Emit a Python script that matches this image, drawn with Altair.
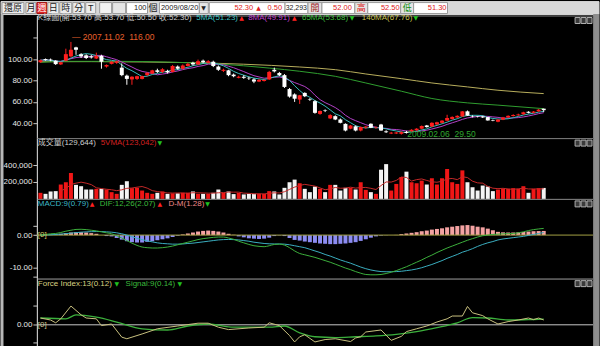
import altair as alt
import pandas as pd

FONT = "Liberation Sans, Noto Sans CJK TC, sans-serif"
UIFONT = "Liberation Sans, Noto Sans CJK TC, sans-serif"

# ---------------- data (weekly bars) ----------------
idx = list(range(100))
opens = [97.0, 100.0, 99.5, 98.5, 95.0, 98.5, 102.5, 110.9, 104.5, 103.5,
         102.5, 100.5, 103.0, 93.0, 95.5, 96.5, 92.0, 84.5, 81.0, 81.5,
         81.5, 85.0, 86.5, 89.5, 88.0, 89.0, 88.0, 93.0, 91.0, 93.5,
         96.5, 95.0, 98.5, 96.5, 97.5, 93.0, 89.0, 89.5, 85.5, 82.5,
         83.5, 82.5, 81.0, 79.0, 79.5, 81.0, 90.0, 87.0, 85.0, 72.0,
         67.0, 62.2, 68.4, 62.5, 60.7, 48.8, 52.3, 44.6, 46.7, 43.6,
         39.5, 35.0, 37.2, 33.3, 36.0, 39.6, 36.0, 38.9, 32.5, 30.5,
         30.5, 30.2, 32.0, 32.5, 33.5, 35.0, 38.0, 37.0, 39.0, 40.5,
         42.5, 44.0, 45.5, 46.5, 51.2, 46.5, 46.5, 46.5, 45.8, 43.0,
         41.5, 43.5, 45.5, 46.8, 47.5, 48.5, 50.8, 49.8, 51.2, 53.7]
highs = [99.5, 100.5, 100.5, 99.0, 97.5, 109.7, 116.0, 111.5, 105.5, 104.5,
         104.0, 106.0, 104.0, 95.0, 98.0, 98.5, 96.0, 85.5, 84.0, 84.5,
         84.5, 88.0, 90.0, 91.0, 91.5, 90.0, 94.5, 94.0, 95.0, 96.5,
         97.5, 99.5, 99.5, 99.0, 98.5, 94.0, 91.0, 90.0, 86.5, 84.5,
         85.0, 83.5, 82.0, 81.5, 81.0, 89.0, 92.0, 88.0, 86.0, 73.0,
         68.0, 66.5, 69.0, 63.5, 61.5, 52.0, 53.0, 48.5, 47.5, 44.5,
         40.0, 38.5, 38.0, 37.0, 37.5, 40.0, 37.0, 39.5, 33.5, 32.0,
         32.0, 32.5, 33.0, 34.5, 35.5, 38.0, 38.5, 41.0, 41.5, 43.0,
         48.0, 46.5, 47.5, 51.5, 52.0, 47.5, 47.0, 47.0, 46.0, 43.5,
         44.0, 46.0, 47.5, 48.5, 49.0, 50.8, 51.3, 51.5, 53.3, 53.7]
lows = [96.5, 98.5, 98.0, 94.5, 94.5, 98.0, 101.5, 104.0, 101.0, 100.0,
        100.5, 100.0, 91.0, 92.0, 95.0, 95.5, 84.0, 76.0, 76.0, 80.5,
        81.0, 84.0, 86.0, 87.0, 87.0, 86.5, 87.5, 90.0, 90.5, 93.0,
        94.0, 94.5, 96.0, 96.0, 92.5, 89.0, 88.0, 84.0, 83.0, 82.0,
        81.5, 80.5, 77.5, 78.5, 79.0, 80.5, 87.5, 84.0, 73.0, 64.0,
        60.0, 58.1, 64.5, 61.0, 49.0, 48.0, 50.5, 44.0, 43.0, 40.0,
        32.5, 34.5, 32.5, 32.5, 35.0, 35.5, 35.0, 33.0, 31.0, 30.0,
        30.0, 29.5, 30.5, 32.0, 33.0, 34.5, 36.0, 36.5, 38.5, 40.0,
        42.0, 43.5, 45.0, 46.0, 47.0, 45.5, 45.5, 45.0, 42.5, 42.0,
        41.0, 43.0, 45.0, 46.3, 47.0, 48.0, 49.3, 49.3, 50.8, 50.5]
closes = [99.0, 99.0, 98.8, 95.3, 97.0, 104.6, 108.7, 108.7, 102.5, 101.0,
          101.5, 103.0, 97.5, 94.5, 97.5, 98.0, 85.0, 81.5, 83.5, 84.0,
          84.0, 87.0, 89.5, 88.0, 90.5, 87.5, 93.5, 91.0, 94.0, 95.5,
          95.0, 98.0, 97.0, 98.0, 93.5, 90.0, 90.0, 85.0, 84.0, 83.5,
          82.5, 82.0, 79.0, 80.5, 80.5, 88.0, 88.5, 85.0, 74.0, 65.0,
          63.0, 66.2, 65.3, 62.0, 49.8, 51.5, 51.8, 47.7, 43.6, 40.5,
          33.3, 38.0, 33.3, 36.6, 37.0, 35.9, 36.5, 33.3, 31.7, 31.3,
          31.5, 31.8, 31.0, 34.0, 35.0, 37.5, 36.5, 40.5, 41.0, 42.5,
          45.0, 46.0, 47.0, 51.2, 47.2, 46.0, 46.0, 45.5, 42.7, 42.5,
          43.5, 45.5, 47.0, 47.8, 48.3, 50.3, 49.8, 51.0, 52.8, 52.3]
volume = [72000, 60000, 88000, 92000, 170000, 197000, 306000, 166000, 150000, 111000,
          111000, 119000, 119000, 111000, 80000, 60000, 166000, 209000, 127000, 131000,
          99000, 72000, 60000, 72000, 88000, 60000, 66000, 66000, 72000, 72000,
          88000, 60000, 60000, 60000, 72000, 111000, 72000, 88000, 57000, 72000,
          53000, 60000, 60000, 60000, 60000, 92000, 88000, 53000, 131000, 197000,
          228000, 185000, 119000, 80000, 146000, 119000, 80000, 166000, 166000, 99000,
          131000, 131000, 111000, 197000, 107000, 80000, 60000, 345000, 411000, 99000,
          177000, 259000, 322000, 197000, 185000, 216000, 170000, 244000, 170000, 244000,
          353000, 197000, 177000, 337000, 197000, 138000, 99000, 158000, 146000, 92000,
          111000, 119000, 119000, 127000, 119000, 150000, 72000, 119000, 127000, 129644]
dif = [0.0, 0.2, 0.4, 0.5, 0.8, 1.2, 1.5, 1.75, 1.8, 1.7,
       1.5, 1.3, 1.0, 0.7, 0.4, -0.2, -0.9, -1.7, -2.5, -3.2,
       -3.7, -3.9, -4.0, -4.0, -3.9, -3.7, -3.4, -3.0, -2.6, -2.2,
       -1.8, -1.4, -1.1, -0.9, -0.7, -0.6, -0.6, -0.9, -1.3, -1.9,
       -2.4, -2.9, -3.3, -3.5, -3.6, -3.3, -2.9, -2.8, -3.1, -3.9,
       -4.9, -5.7, -6.1, -6.5, -6.9, -7.4, -7.9, -8.4, -9.0, -9.6,
       -10.2, -10.7, -11.3, -11.8, -12.2, -12.3, -12.3, -12.2, -11.9, -11.5,
       -11.0, -10.4, -9.8, -9.1, -8.4, -7.7, -6.9, -6.2, -5.4, -4.7,
       -4.0, -3.4, -2.8, -2.2, -1.6, -1.1, -0.6, -0.2, 0.0, 0.2,
       0.3, 0.4, 0.45, 0.5, 0.7, 1.0, 1.4, 1.7, 1.9, 2.07]
macd = [0.0, 0.05, 0.1, 0.2, 0.3, 0.45, 0.6, 0.75, 0.9, 1.0,
        1.05, 1.1, 1.1, 1.0, 0.9, 0.7, 0.4, 0.0, -0.5, -1.0,
        -1.4, -1.8, -2.1, -2.4, -2.6, -2.7, -2.8, -2.8, -2.75, -2.6,
        -2.5, -2.3, -2.1, -1.9, -1.7, -1.5, -1.4, -1.35, -1.4, -1.5,
        -1.7, -1.9, -2.2, -2.4, -2.6, -2.7, -2.75, -2.75, -2.8, -3.0,
        -3.3, -3.6, -3.9, -4.4, -4.9, -5.4, -6.0, -6.5, -7.1, -7.7,
        -8.2, -8.7, -9.3, -9.9, -10.4, -10.8, -11.1, -11.3, -11.35, -11.35,
        -11.3, -11.2, -11.0, -10.8, -10.5, -10.1, -9.6, -9.1, -8.5, -7.9,
        -7.2, -6.6, -6.0, -5.3, -4.8, -4.2, -3.5, -2.9, -2.4, -2.0,
        -1.5, -1.2, -1.0, -0.8, -0.6, -0.4, -0.1, 0.2, 0.5, 0.79]
hist = [0.0, 0.1, 0.2, 0.3, 0.4, 0.6, 0.8, 0.9, 0.9, 0.8,
        0.6, 0.4, 0.0, -0.3, -0.4, -0.9, -1.4, -1.9, -2.2, -2.3,
        -2.3, -2.1, -1.9, -1.6, -1.3, -1.0, -0.6, -0.2, 0.2, 0.5,
        0.8, 1.1, 1.3, 1.4, 1.3, 1.1, 0.8, 0.4, 0.1, -0.4,
        -0.7, -1.0, -1.1, -1.2, -1.1, -0.8, -0.3, -0.1, -0.3, -0.9,
        -1.5, -1.7, -2.0, -2.2, -2.4, -2.6, -2.7, -2.8, -2.8, -2.7,
        -2.6, -2.4, -2.2, -1.8, -1.3, -0.8, -0.4, -0.15, -0.05, 0.0,
        0.05, 0.3, 0.5, 0.7, 0.9, 1.2, 1.4, 1.7, 1.9, 2.1,
        2.4, 2.6, 2.8, 3.0, 3.1, 2.9, 2.6, 2.4, 2.0, 1.5,
        1.0, 0.85, 0.8, 0.8, 0.85, 0.95, 1.1, 1.2, 1.25, 1.28]

ma65_i = [0, 5, 15, 25, 35, 45, 51, 58, 64, 71, 77, 84, 90, 99]
ma65_v = [96.9, 97.9, 97.9, 97.2, 95.4, 91.6, 88.6, 83.9, 77.7, 70.0, 63.2, 59.1, 57.0, 53.68]
ma140_i = [0, 10, 20, 30, 40, 51, 58, 64, 71, 77, 84, 90, 99]
ma140_v = [97.5, 97.6, 97.3, 96.6, 95.2, 92.6, 90.1, 86.1, 81.7, 77.7, 74.0, 70.9, 67.76]

force_i = [0, 2, 3, 4, 6, 8, 9, 11, 12, 14, 16, 17, 20, 23, 27, 31, 33, 35, 37, 41,
           44, 45, 47, 49, 50, 51, 52, 54, 56, 58, 61, 62, 63, 64, 67, 69, 71, 72, 74, 76,
           78, 80, 81, 83, 84, 85, 87, 88, 90, 92, 94, 96, 97, 98, 99]
force_v = [0.17, 0.12, 0.05, 0.15, 0.47, 0.25, 0.17, 0.15, -0.02, 0.02, -0.31, -0.35, -0.23, -0.10, -0.03, 0.04, 0.04, -0.06, -0.12, -0.08,
           -0.06, 0.05, -0.02, -0.27, -0.43, -0.30, -0.25, -0.43, -0.37, -0.35, -0.42, -0.33, -0.30, -0.18, -0.13, -0.39, -0.29, -0.17, -0.10, -0.03,
           0.07, 0.15, 0.22, 0.22, 0.46, 0.30, 0.23, 0.15, 0.02, 0.08, 0.12, 0.17, 0.13, 0.17, 0.12]
signal_i = [0, 5, 7, 11, 15, 20, 25, 29, 33, 38, 45, 48, 51, 54, 58, 62, 66, 70, 74, 78, 82, 85, 88, 92, 96, 99]
signal_v = [0.17, 0.15, 0.25, 0.19, 0.07, -0.10, -0.13, -0.03, 0.02, -0.06, -0.06, -0.03, -0.20, -0.30, -0.32,
            -0.30, -0.28, -0.24, -0.17, -0.07, 0.05, 0.18, 0.17, 0.12, 0.13, 0.14]

peak_i, peak_v, peak_t = [6], [116.0], ["\u2014 2007.11.02\u00a0\u00a0116.00"]
low_i, low_v, low_t = [71], [29.5], ["2009.02.06\u00a0\u00a029.50"]

# ---------------- frames ----------------
df = pd.DataFrame(dict(i=idx, open=opens, high=highs, low=lows, close=closes,
                       vol=volume, dif=dif, macd=macd, hist=hist))
d65 = pd.DataFrame(dict(i=ma65_i, v=ma65_v))
d140 = pd.DataFrame(dict(i=ma140_i, v=ma140_v))
dforce = pd.DataFrame(dict(i=force_i, v=force_v))
dsig = pd.DataFrame(dict(i=signal_i, v=signal_v))
dpeak = pd.DataFrame(dict(i=peak_i, v=peak_v, t=peak_t))
dlow = pd.DataFrame(dict(i=low_i, v=low_v, t=low_t))
one = pd.DataFrame({"k": [0]})

W = 558
RED = "#ff1e1e"
WHITE = "#ffffff"
UP = "datum.close >= datum.open"
DOWN = "datum.close < datum.open"
BORDER = alt.ViewBackground(fill="#000000", stroke="#7c7c7c", strokeWidth=1)

xs = alt.Scale(domain=[-0.7, 108.7], nice=False, zero=False, padding=0)
X = alt.X("i:Q", scale=xs, axis=None)


def yaxis(values, expr):
    return alt.Axis(values=values, labelExpr=expr, title=None, grid=False,
                    labelColor="#e6e6e6", labelFont=FONT, labelFontSize=8,
                    tickColor="#c8c8c8", tickSize=4, domainColor="#d0d0d0",
                    labelPadding=1, minExtent=36, maxExtent=36, labelOverlap=False)


def txt(s, x, y, color, size=8, font=FONT, align="left"):
    return alt.Chart(one).mark_text(text=s, align=align, baseline="middle", color=color,
                                    fontSize=size, font=font).encode(
        x=alt.value(x), y=alt.value(y))


def tri(s, x, y, color):
    return txt(s, x, y, color, 6, "DejaVu Sans, sans-serif")


def box(x1, x2, y1, y2, fill, stroke="#9a9a9a"):
    return alt.Chart(one).mark_rect(fill=fill, stroke=stroke, strokeWidth=1).encode(
        x=alt.value(x1), x2=alt.value(x2), y=alt.value(y1), y2=alt.value(y2))


def icons():
    return [box(540, 545, 2, 8, "#3a3a3a", "#b0b0b0"),
            box(546, 551, 2, 8, "#3a3a3a", "#b0b0b0"),
            box(552, 557, 2, 8, "#3a3a3a", "#b0b0b0")]


base = alt.Chart(df)
sort_i = [alt.SortField("i", order="ascending")]

# ---------------- toolbar (x relative to the plot's left edge at 36px) ----------------
NUM = 7.5
CJ = 9
tb = [
    box(-36, 564, 0, 13, "#d8d8d8", "#d8d8d8"),
    box(558.5, 564, 13, 346, "#8e8e8e", "#8e8e8e"),
    box(-36, -34, 13, 346, "#b8b8b8", "#b8b8b8"),
    box(-35, -13, 1, 12, "#ececec"), txt("還原", -24, 6.5, "#202020", CJ, UIFONT, "center"),
    box(-11, -1, 1, 12, "#ececec"), txt("月", -6, 6.5, "#202020", CJ, UIFONT, "center"),
    box(0, 10, 1, 12, "#e02424", "#a01010"), txt("週", 5, 6.5, "#ffffff", CJ, UIFONT, "center"),
    box(11, 22, 1, 12, "#ececec"), txt("日", 16.5, 6.5, "#202020", CJ, UIFONT, "center"),
    box(23, 35, 1, 12, "#ececec"), txt("時", 29, 6.5, "#202020", CJ, UIFONT, "center"),
    box(36, 48, 1, 12, "#ececec"), txt("分", 42, 6.5, "#202020", CJ, UIFONT, "center"),
    box(49, 59, 1, 12, "#ececec"), txt("T", 54, 6.5, "#202020", CJ, UIFONT, "center"),
    box(63, 75, 1, 12, "#f2f2f2"), box(76, 89, 1, 12, "#e6e6e6"),
    box(90, 111, 1, 12, "#ffffff"), txt("100", 110, 6.5, "#202020", NUM, UIFONT, "right"),
    txt("個", 116.5, 6.5, "#202020", CJ, UIFONT, "center"),
    box(123, 163, 1, 12, "#ffffff"), txt("2009/08/20", 124.5, 6.5, "#202020", NUM, UIFONT),
    box(163, 172, 1, 12, "#e6e6e6"), tri("▼", 165, 6.5, "#202020"),
    box(173, 249, 1, 12, "#ffffff"),
    txt("52.30", 217, 6.5, "#e02020", NUM, UIFONT, "right"),
    tri("▲", 220, 6.5, "#e02020"),
    txt("0.50", 246, 6.5, "#e02020", NUM, UIFONT, "right"),
    box(249, 272, 1, 12, "#ffffff"), txt("32,293", 271, 6.5, "#202020", 7, UIFONT, "right"),
    box(272, 286, 1, 12, "#e4e4e4"), txt("開", 279, 6.5, "#a02020", CJ, UIFONT, "center"),
    box(286, 319, 1, 12, "#ffffff"), txt("52.00", 316, 6.5, "#e02020", NUM, UIFONT, "right"),
    box(319, 332, 1, 12, "#e4e4e4"), txt("高", 325.5, 6.5, "#e02020", CJ, UIFONT, "center"),
    box(332, 365, 1, 12, "#ffffff"), txt("52.50", 364, 6.5, "#e02020", NUM, UIFONT, "right"),
    box(365, 378, 1, 12, "#e4e4e4"), txt("低", 371.5, 6.5, "#109010", CJ, UIFONT, "center"),
    box(378, 412, 1, 12, "#ffffff"), txt("51.30", 411, 6.5, "#e02020", NUM, UIFONT, "right"),
]
toolbar = alt.layer(*tb).properties(
    width=W, height=14,
    view=alt.ViewBackground(fill="transparent", stroke="transparent", strokeWidth=0))

# ---------------- price panel ----------------
yP = alt.Scale(domain=[26.2, 140.65], nice=False, zero=False)
axP = yaxis([40, 60, 80, 100, 120], "datum.value > 110 ? '' : format(datum.value, '.2f')")


def YP(f):
    return alt.Y(f, type="quantitative", scale=yP, axis=axP)


price_layers = [
    alt.Chart(d140).mark_line(color="#b8ae5c", strokeWidth=1, interpolate="monotone").encode(x=X, y=YP("v")),
    alt.Chart(d65).mark_line(color="#2f9e2f", strokeWidth=1, interpolate="monotone").encode(x=X, y=YP("v")),
    base.transform_window(ma8="mean(close)", frame=[-7, 0], sort=sort_i)
        .mark_line(color="#b440c8", strokeWidth=1).encode(x=X, y=YP("ma8")),
    base.transform_window(ma5="mean(close)", frame=[-4, 0], sort=sort_i)
        .mark_line(color="#38bcbc", strokeWidth=1).encode(x=X, y=YP("ma5")),
    base.transform_filter(UP).mark_rule(color=RED, strokeWidth=1).encode(x=X, y=YP("low"), y2="high"),
    base.transform_filter(DOWN).mark_rule(color=WHITE, strokeWidth=1).encode(x=X, y=YP("low"), y2="high"),
    base.transform_filter(UP).mark_bar(size=4, color=RED).encode(x=X, y=YP("open"), y2="close"),
    base.transform_filter(DOWN).mark_bar(size=4, color=WHITE).encode(x=X, y=YP("open"), y2="close"),
    alt.Chart(dpeak).mark_text(align="left", baseline="alphabetic", dx=1, dy=-2, color="#e8602c",
                               fontSize=8.5, font=FONT).encode(x=X, y=YP("v"), text="t:N"),
    alt.Chart(dlow).mark_text(align="left", baseline="alphabetic", dx=6, dy=2, color="#2fa82f",
                              fontSize=8.5, font=FONT).encode(x=X, y=YP("v"), text="t:N"),
    txt("K線圖(開:53.70 高:53.70 低:50.50 收:52.30)", 1, 2.7, "#d0d0d0"),
    txt("5MA(51.23)", 160, 2.7, "#3cc0c0"),
    tri("▲", 203, 2.7, "#ff2020"),
    txt("8MA(49.91)", 212, 2.7, "#c040d0"),
    tri("▲", 256, 2.7, "#ff2020"),
    txt("65MA(53.68)", 266, 2.7, "#3cbc3c"),
    tri("▼", 314, 2.7, "#20c020"),
    txt("140MA(67.76)", 326, 2.7, "#c8c050"),
    tri("▼", 378, 2.7, "#20c020"),
] + icons()
price = alt.layer(*price_layers).properties(width=W, height=123, view=BORDER)

# ---------------- volume panel ----------------
yV = alt.Scale(domain=[0, 718000], nice=False, zero=False)
axV = yaxis([200000, 400000], "format(datum.value, ',')")


def YV(f):
    return alt.Y(f, type="quantitative", scale=yV, axis=axV)


vol_layers = [
    base.transform_filter(UP).mark_bar(size=4, color="#f01616").encode(x=X, y=YV("vol")),
    base.transform_filter(DOWN).mark_bar(size=4, color="#f4f4f4").encode(x=X, y=YV("vol")),
    base.transform_window(vma="mean(vol)", frame=[-4, 0], sort=sort_i).transform_filter("datum.i >= 4")
        .mark_line(color="#c42828", strokeWidth=1).encode(x=X, y=YV("vma")),
    txt("成交量(129,644)", 1, 4.7, "#d0d0d0"),
    txt("5VMA(123,042)", 64, 4.7, "#d42020"),
    tri("▼", 121, 4.7, "#20c020"),
] + icons()
volc = alt.layer(*vol_layers).properties(width=W, height=61, view=BORDER)

# ---------------- MACD panel ----------------
yM = alt.Scale(domain=[-13.49, 11.2], nice=False, zero=False)
axM = yaxis([-12.9, -10, 0, 2.9],
            "datum.value == 0 ? '0.00' : (datum.value == -10 ? '-10.00' : '')")


def YM(f):
    return alt.Y(f, type="quantitative", scale=yM, axis=axM)


macd_layers = [
    base.transform_filter("datum.hist >= 0").mark_bar(size=4, color="#f4a2a2").encode(x=X, y=YM("hist")),
    base.transform_filter("datum.hist < 0").mark_bar(size=4, color="#8c8cf2").encode(x=X, y=YM("hist")),
    alt.Chart(one).mark_rule(color="#a4a044", strokeWidth=1).encode(y=alt.Y(datum=0, scale=yM, axis=axM)),
    base.mark_line(color="#3aaec0", strokeWidth=1, interpolate="monotone").encode(x=X, y=YM("macd")),
    base.mark_line(color="#3cb03c", strokeWidth=1, interpolate="monotone").encode(x=X, y=YM("dif")),
    alt.Chart(one).mark_text(text="[0]", align="left", baseline="middle", color="#d8c860",
                             fontSize=8, font=FONT).encode(x=alt.value(1), y=alt.Y(datum=0, scale=yM, axis=axM)),
    txt("MACD:9(0.79)", 1, 5.5, "#3cb8c8"),
    tri("▲", 53, 5.5, "#ff2020"),
    txt("DIF:12,26(2.07)", 63, 5.5, "#3cbc3c"),
    tri("▲", 121, 5.5, "#ff2020"),
    txt("D-M(1.28)", 132, 5.5, "#f08a8a"),
    tri("▼", 169, 5.5, "#20c020"),
] + icons()
macdc = alt.layer(*macd_layers).properties(width=W, height=80, view=BORDER)

# ---------------- Force index panel ----------------
yF = alt.Scale(domain=[-0.5425, 1.1575], nice=False, zero=False)
axF = yaxis([-0.43, 0, 0.48], "datum.value == 0 ? '0.00' : ''")


def YF(f):
    return alt.Y(f, type="quantitative", scale=yF, axis=axF)


force_layers = [
    alt.Chart(one).mark_rule(color="#c8c8c8", strokeWidth=1).encode(y=alt.Y(datum=0, scale=yF, axis=axF)),
    alt.Chart(dsig).mark_line(color="#3cb03c", strokeWidth=1.3, interpolate="monotone").encode(x=X, y=YF("v")),
    alt.Chart(dforce).mark_line(color="#c8c07e", strokeWidth=1).encode(x=X, y=YF("v")),
    alt.Chart(one).mark_text(text="[0]", align="left", baseline="middle", color="#d0c890",
                             fontSize=8, font=FONT).encode(x=alt.value(1), y=alt.Y(datum=0, scale=yF, axis=axF)),
    txt("Force Index:13(0.12)", 1, 5.3, "#d8d080"),
    tri("▼", 78, 5.3, "#20c020"),
    txt("Signal:9(0.14)", 89, 5.3, "#3cbc3c"),
    tri("▼", 141, 5.3, "#20c020"),
] + icons()
forcec = alt.layer(*force_layers).properties(width=W, height=68, view=BORDER)

chart = alt.vconcat(toolbar, price, volc, macdc, forcec, spacing=0, bounds="flush").resolve_scale(
    y="independent").configure(background="#000000", padding=0)

chart.save("out.html", embed_options={"renderer": "svg", "actions": False})
